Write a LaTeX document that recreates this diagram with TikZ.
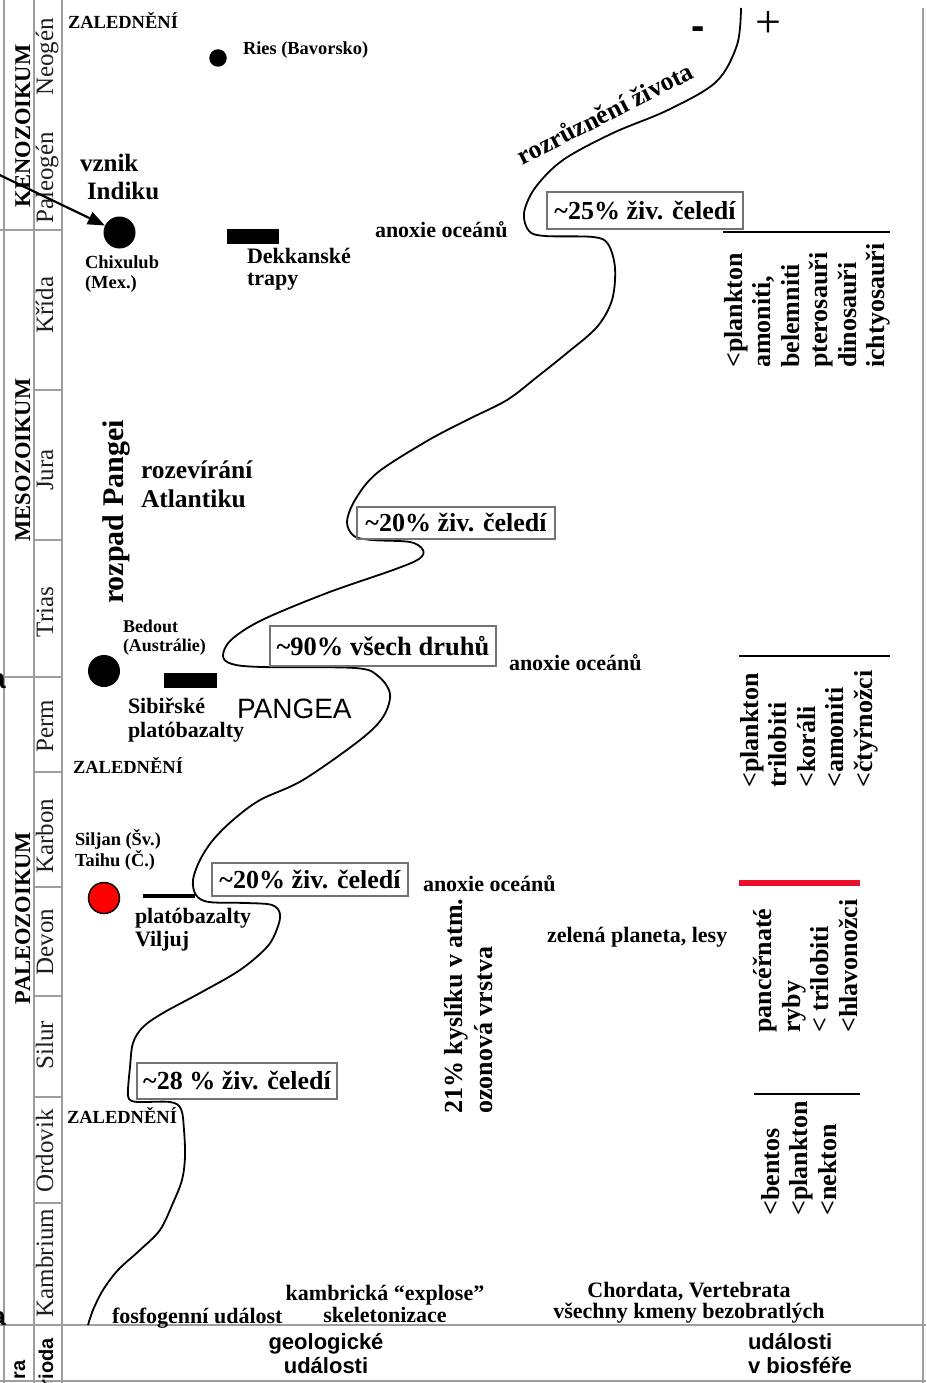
\documentclass[tikz,border=0pt]{standalone}
\usepackage{fontspec}
\setmainfont{Liberation Serif}
\setsansfont{Liberation Sans}
\usetikzlibrary{arrows.meta}
\newcommand\fsz[2]{\fontsize{#1pt}{#2pt}\selectfont}
\begin{document}
\begin{tikzpicture}[x=1pt,y=-1pt,
  gridline/.style={draw=black!38, line width=1.2pt},
  lab/.style={inner sep=0pt, outer sep=0pt, align=left, anchor=base west},
  clab/.style={inner sep=0pt, outer sep=0pt, align=center, anchor=base},
  pbox/.style={draw=black!55, line width=1.3pt, inner sep=0pt, font=\fsz{26}{28}\bfseries},
  perlab/.style={rotate=90, anchor=base, inner sep=0pt, font=\fsz{25}{28}, text=black!88},
  eralab/.style={rotate=90, anchor=base, inner sep=0pt, font=\fsz{22.5}{25}\bfseries},
  colx/.style={rotate=90, anchor=north west, inner sep=0pt, align=left, font=\fsz{26}{28.5}\bfseries},
  mydot/.style={circle, fill=black, inner sep=0pt},
  mybar/.style={rectangle, fill=black, inner sep=0pt},
  sepline/.style={line width=2pt},
  lifecurve/.style={line width=1.8pt, line join=round},
]
\useasboundingbox (0,0) rectangle (926,1383);

% ---- table frame
\draw[gridline] (4,0) -- (4,1383);
\draw[gridline] (34,0) -- (34,1383);
\draw[gridline] (62,0) -- (62,1383);
\draw[gridline] (923,8) -- (923,1383);
\foreach \yy in {390,540,772,887,996,1097,1203} \draw[gridline] (34,\yy) -- (62,\yy);
\foreach \yy in {230,677} \draw[gridline] (0,\yy) -- (62,\yy);
\draw[gridline] (0,1325) -- (926,1325);
\draw[gridline] (0,1381) -- (926,1381);

% ---- eras
\node[eralab] (keno) at (30,126) {KENOZOIKUM};
\node[eralab] (meso) at (30,460) {MESOZOIKUM};
\node[eralab] (paleo) at (30,918) {PALEOZOIKUM};

% ---- periods
\node[perlab] (neogen) at (53,57) {Neogén};
\node[perlab] (paleogen) at (53,178) {Paleogén};
\node[perlab] (krida) at (53,305) {Křída};
\node[perlab] (jura) at (53,470) {Jura};
\node[perlab] (trias) at (53,612) {Trias};
\node[perlab] (perm) at (53,726) {Perm};
\node[perlab] (karbon) at (53,836) {Karbon};
\node[perlab] (devon) at (53,942) {Devon};
\node[perlab] (silur) at (53,1045) {Silur};
\node[perlab] (ordovik) at (53,1151) {Ordovik};
\node[perlab] (kambrium) at (53,1263) {Kambrium};

% ---- fragments at the edges
\node[inner sep=0pt, anchor=base east, font=\sffamily\bfseries\fsz{28}{28}] (fa1) at (6,688) {a};
\node[inner sep=0pt, anchor=base east, font=\sffamily\bfseries\fsz{26}{26}] (fa2) at (6,1325) {a};
\node[inner sep=0pt, rotate=90, anchor=base east, font=\sffamily\bfseries\fsz{20}{20}] (erab) at (25,1360) {ra};
\node[inner sep=0pt, rotate=90, anchor=base east, font=\sffamily\bfseries\fsz{20}{20}] (perb) at (53,1338) {rioda};

% ---- markers
\node[mydot, minimum size=17.5pt] (ries) at (218,58) {};
\node[mydot, minimum size=32pt] (chix) at (119.5,232.5) {};
\node[mydot, minimum size=32pt] (bedout) at (104,671) {};
\node[circle, fill=red, draw=black, line width=1.5pt, minimum size=31pt, inner sep=0pt] (siljan) at (104,898) {};
\node[mybar, minimum width=52pt, minimum height=15pt] (dekkan) at (253,236.5) {};
\node[mybar, minimum width=53pt, minimum height=15pt] (sibir) at (190.5,680.5) {};
\coordinate (vilA) at (143,896);
\coordinate (vilB) at (195,896);
\draw[line width=3.5pt] (vilA) -- (vilB);

% ---- arrow
\coordinate (astart) at (-10,170.4);
\draw[line width=2.2pt, -{Triangle[length=17pt,width=13pt]}] (astart) -- (chix);

% ---- diversity curve
\draw[lifecurve] plot[smooth, tension=0.55] coordinates {
(741,8) (737,45) (716,82) (668,110) (613,133) (563,160) (535,188) (524,213)
(529,231) (545,236) (593,237) (608,244) (615,268) (612,300) (597,327) (567,353)
(537,377) (507,400) (467,420) (427,441) (377,473) (355,500) (347,522) (354,536)
(372,540) (410,542) (423,550) (419,559) (393,570) (327,593) (262,620) (231,640)
(223,656) (232,664) (262,667) (355,668) (378,676) (390,694) (383,717) (360,740)
(303,780) (260,800) (233,820) (213,840) (200,860) (193,880) (196,895) (209,902)
(247,903) (272,905) (280,914) (277,929) (267,947) (240,970) (200,993) (163,1013)
(143,1027) (133,1043) (130,1067) (128,1090) (129,1099) (138,1102) (170,1102) (181,1109)
(184,1130) (185,1157) (182,1180) (173,1203) (160,1230) (140,1250) (118,1270) (103,1290)
(93,1310) (88,1325)};

\node[inner sep=0pt, font=\sffamily\bfseries\fsz{40}{40}] (minus) at (698,33) {-};
\node[inner sep=0pt, font=\fsz{46}{46}] (plus) at (768,25) {+};
\node[inner sep=0pt, rotate=27, font=\fsz{26}{28}\bfseries] (rozr) at (605,113) {rozrůznění života};

% ---- extinction boxes
\node[pbox, minimum width=196pt, minimum height=37pt] (b25) at (645,210.5) {\textasciitilde25\% živ. čeledí};
\node[pbox, minimum width=198pt, minimum height=32pt] (b20a) at (456,523) {\textasciitilde20\% živ. čeledí};
\node[pbox, minimum width=226pt, minimum height=40pt, font=\fsz{26.5}{28}\bfseries] (b90) at (383,646) {\textasciitilde90\% všech druhů};
\node[pbox, minimum width=196pt, minimum height=33pt] (b20b) at (310,879.5) {\textasciitilde20\% živ. čeledí};
\node[pbox, minimum width=200pt, minimum height=36pt] (b28) at (237,1081) {\textasciitilde28 \% živ. čeledí};

% ---- geological labels (multi-line nodes: base = last line)
\node[lab, font=\fsz{18.5}{20}\bfseries] (zal1) at (68,29) {ZALEDNĚNÍ};
\node[lab, font=\fsz{18.4}{20}\bfseries] (riesl) at (243,55) {Ries (Bavorsko)};
\node[lab, font=\fsz{25}{28}\bfseries] (vznik) at (80,172) {vznik};
\node[lab, font=\fsz{25}{28}\bfseries] (indiku) at (87,200) {Indiku};
\node[lab, font=\fsz{18.5}{20}\bfseries] (chixl) at (85,288) {Chixulub\\(Mex.)};
\node[lab, font=\fsz{22}{22}\bfseries] (dekl) at (247,285) {Dekkanské\\trapy};
\node[lab, font=\fsz{22}{24}\bfseries] (anox1) at (375,237) {anoxie oceánů};
\node[inner sep=0pt, rotate=90, anchor=north west, font=\fsz{30}{32}\bfseries] (rozpad) at (102,604) {rozpad Pangei};
\node[lab, font=\fsz{25.5}{29}\bfseries] (atl) at (141,507) {rozevírání\\Atlantiku};
\node[lab, font=\fsz{18}{19}\bfseries] (bedl) at (123,651) {Bedout\\(Austrálie)};
\node[lab, font=\fsz{22}{24}\bfseries] (sibl) at (128,737) {Sibiřské\\platóbazalty};
\node[lab, font=\sffamily\fsz{28}{30}] (pangea) at (237,718) {PANGEA};
\node[lab, font=\fsz{22}{24}\bfseries] (anox2) at (509,670) {anoxie oceánů};
\node[lab, font=\fsz{18.5}{20}\bfseries] (zal2) at (73,773) {ZALEDNĚNÍ};
\node[lab, font=\fsz{18.4}{21}\bfseries] (siljl) at (75,866) {Siljan (Šv.)\\Taihu (Č.)};
\node[lab, font=\fsz{22}{24}\bfseries] (anox3) at (423,891) {anoxie oceánů};
\node[lab, font=\fsz{22}{23}\bfseries] (vilj) at (135,946) {platóbazalty\\Viljuj};
\node[lab, font=\fsz{22}{24}\bfseries] (zelena) at (547,942) {zelená planeta, lesy};
\node[colx, font=\fsz{26}{30}\bfseries] (oxy) at (444,1114) {21\% kyslíku v atm.\\ozonová vrstva};
\node[lab, font=\fsz{18.5}{20}\bfseries] (zal3) at (67,1123) {ZALEDNĚNÍ};
\node[clab, font=\fsz{22}{22}\bfseries] (kamb) at (385,1322) {kambrická “explose”\\skeletonizace};
\node[lab, font=\fsz{22}{24}\bfseries] (fosf) at (112,1323) {fosfogenní událost};
\node[clab, font=\fsz{22}{21}\bfseries] (chord) at (689,1318) {Chordata, Vertebrata\\všechny kmeny bezobratlých};
\node[clab, font=\sffamily\bfseries\fsz{22}{24}] (geol) at (326,1373) {geologické\\události};
\node[lab, font=\sffamily\bfseries\fsz{22}{24}] (bios) at (748,1373) {události\\v biosféře};

% ---- biosphere columns
\draw[sepline] (723,232) -- (890,232);
\node[colx] (kretacol) at (724,368) {<plankton\\amoniti,\\belemniti\\pterosauři\\dinosauři\\ichtyosauři};
\draw[sepline] (739,656) -- (890,656);
\node[colx] (permcol) at (740,788) {<plankton\\trilobiti\\<koráli\\<amoniti\\<čtyřnožci};
\draw[line width=5.5pt, draw={rgb,255:red,232;green,16;blue,42}] (739,883) -- (860,883);
\node[colx] (devcol) at (753,1033) {pancéřnaté\\ryby\\< trilobiti\\<hlavonožci};
\draw[sepline] (754,1094) -- (860,1094);
\node[colx] (ordcol) at (761,1216) {<bentos\\<plankton\\<nekton};
\end{tikzpicture}
\end{document}
